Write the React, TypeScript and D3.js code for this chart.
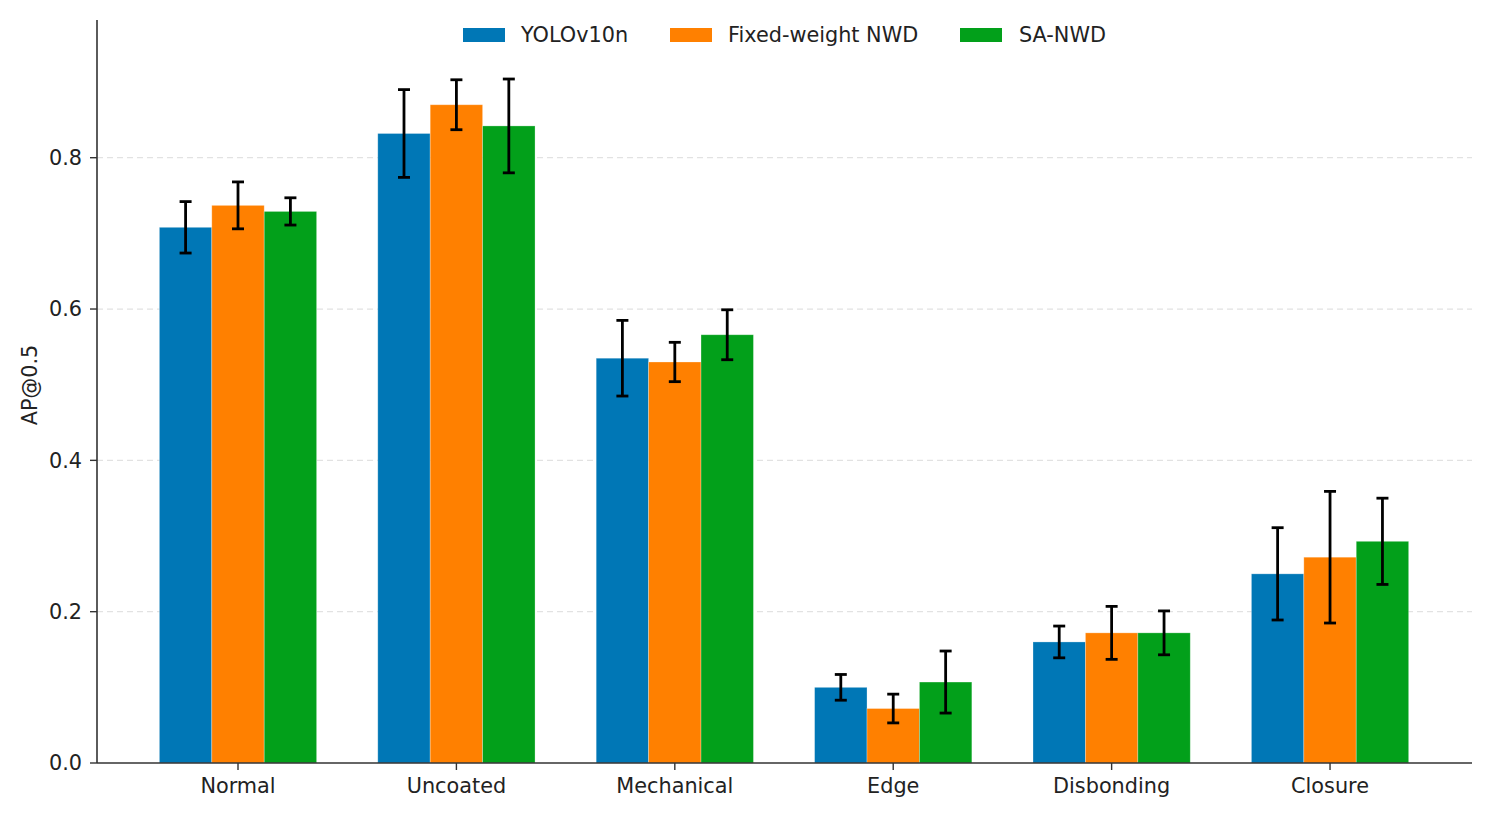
import React from "react";
import * as d3 from "d3";

const categories = ["Normal", "Uncoated", "Mechanical", "Edge", "Disbonding", "Closure"];
const seriesNames = ["YOLOv10n", "Fixed-weight NWD", "SA-NWD"];
const yoloMean = [0.708, 0.832, 0.535, 0.1, 0.16, 0.25];
const yoloErr = [0.034, 0.058, 0.05, 0.017, 0.021, 0.061];
const fixedMean = [0.737, 0.87, 0.53, 0.072, 0.172, 0.272];
const fixedErr = [0.031, 0.033, 0.026, 0.019, 0.035, 0.087];
const saMean = [0.729, 0.842, 0.566, 0.107, 0.172, 0.293];
const saErr = [0.018, 0.062, 0.033, 0.041, 0.029, 0.057];
const yTicks = [0, 0.2, 0.4, 0.6, 0.8];
const colors = ["#0077b6", "#ff8000", "#02a01a"];

const W = 1494;
const H = 818;
const FONT = "DejaVu Sans, sans-serif";
const FS = 20.8;

export default function App() {
  const x = d3.scaleLinear().domain([-0.6456, 5.65]).range([97, 1472]);
  const y = d3.scaleLinear().domain([0, 0.982]).range([763, 20]);
  const barW = 0.24;
  const means = [yoloMean, fixedMean, saMean];
  const errs = [yoloErr, fixedErr, saErr];
  const px = (v: number) => x(v) - x(0);

  const legendItems = [
    { x: 463, tx: 521 },
    { x: 670, tx: 728 },
    { x: 960, tx: 1019 },
  ];

  return (
    <svg
      width={W}
      height={H}
      style={{ position: "absolute", left: 0, top: 0, background: "#fff" }}
      fontFamily={FONT}
    >
      {yTicks.filter((t) => t > 0).map((t) => (
        <line
          key={"g" + t}
          x1={x(-0.6456)}
          x2={x(5.65)}
          y1={y(t)}
          y2={y(t)}
          stroke="#e2e2e2"
          strokeWidth={1.2}
          strokeDasharray="6,4"
        />
      ))}
      {means.map((m, si) =>
        categories.map((c, ci) => {
          const cx = ci + (si - 1) * barW;
          return (
            <rect
              key={"b" + si + ci}
              x={x(cx - barW / 2)}
              y={y(m[ci])}
              width={px(barW)}
              height={y(0) - y(m[ci])}
              fill={colors[si]}
              stroke="#ffffff"
              strokeOpacity={0.35}
              strokeWidth={0.8}
            />
          );
        })
      )}
      {means.map((m, si) =>
        categories.map((c, ci) => {
          const cx = x(ci + (si - 1) * barW);
          const top = y(m[ci] + errs[si][ci]);
          const bot = y(m[ci] - errs[si][ci]);
          return (
            <g key={"e" + si + ci} stroke="#000" strokeWidth={2.8}>
              <line x1={cx} x2={cx} y1={top} y2={bot} />
              <line x1={cx - 6} x2={cx + 6} y1={top} y2={top} />
              <line x1={cx - 6} x2={cx + 6} y1={bot} y2={bot} />
            </g>
          );
        })
      )}
      <line x1={97} x2={97} y1={y(0.982)} y2={y(0)} stroke="#333" strokeWidth={1.6} />
      <line x1={97} x2={x(5.65)} y1={y(0)} y2={y(0)} stroke="#333" strokeWidth={1.6} />
      {yTicks.map((t) => (
        <g key={"yt" + t}>
          <line x1={90} x2={97} y1={y(t)} y2={y(t)} stroke="#333" strokeWidth={1.4} />
          <text x={82} y={y(t)} dy="0.35em" textAnchor="end" fontSize={FS} fill="#222">
            {t.toFixed(1)}
          </text>
        </g>
      ))}
      {categories.map((c, i) => (
        <g key={"xt" + c}>
          <line x1={x(i)} x2={x(i)} y1={763} y2={770} stroke="#333" strokeWidth={1.4} />
          <text x={x(i)} y={793} textAnchor="middle" fontSize={FS} fill="#222">
            {c}
          </text>
        </g>
      ))}
      <text
        transform={`translate(37,385) rotate(-90)`}
        textAnchor="middle"
        fontSize={FS}
        fill="#222"
      >
        AP@0.5
      </text>
      {seriesNames.map((s, i) => (
        <g key={"l" + s}>
          <rect x={legendItems[i].x} y={28} width={42} height={14} fill={colors[i]} />
          <text x={legendItems[i].tx} y={35} dy="0.35em" fontSize={FS} fill="#222">
            {s}
          </text>
        </g>
      ))}
    </svg>
  );
}
